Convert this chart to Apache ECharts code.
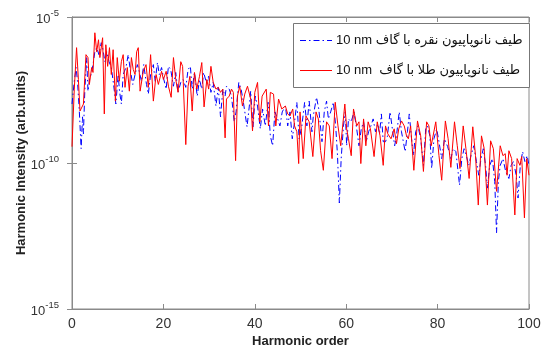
<!DOCTYPE html>
<html><head><meta charset="utf-8">
<script src="https://cdn.jsdelivr.net/npm/echarts@6/dist/echarts.min.js"></script>
</head>
<body style="margin:0;background:#fff">
<div id="c" style="width:547px;height:353px"></div>
<script>
// Tick values
const xTicks = [0, 20, 40, 60, 80, 100];
const yTickExponents = [-15, -10, -5];

// Legend names
const silverName = '10 nm طیف نانوپاپیون نقره با گاف';
const goldName = '10 nm  طیف نانوپاپیون طلا با گاف';

// Silver (blue, dash-dot): harmonic order and log10(intensity)
const silverX = [
  0,0.5,0.9,1.2,1.6,2.0,2.3,2.5,2.8,3.2,
  3.5,3.9,4.2,4.6,5.0,5.4,5.9,6.4,6.7,7.2,
  7.6,8.1,8.6,9.1,9.6,10.1,10.4,10.8,11.2,11.8,
  12.3,12.8,13.3,13.8,14.3,14.7,15.2,15.7,16.3,16.7,
  17.2,17.8,18.2,18.7,19.1,19.6,20.1,20.6,21.1,21.6,
  22.2,22.7,23.2,23.8,24.3,24.9,25.4,25.9,26.3,26.8,
  27.4,27.9,28.4,28.8,29.4,29.9,30.4,30.9,31.5,32.0,
  32.5,33.0,33.5,33.8,34.4,34.9,35.5,35.9,36.5,37.0,
  37.4,38.3,38.8,39.1,39.6,40.1,40.6,41.2,41.7,42.3,
  42.9,43.4,43.9,44.4,45.0,45.5,46.0,46.7,47.2,47.7,
  48.2,48.7,49.2,49.7,50.3,50.9,51.4,51.9,52.5,52.8,
  53.5,54.0,54.7,55.2,55.7,56.1,56.6,57.2,57.7,58.1,
  58.5,58.9,59.4,59.8,60.1,60.5,61.1,61.7,62.3,62.8,
  63.3,63.8,64.4,64.9,65.4,65.9,66.4,66.9,67.3,67.7,
  68.1,68.6,69.0,69.6,70.1,70.6,71.0,71.6,72.1,72.9,
  73.4,73.8,74.3,74.7,75.2,75.7,76.3,76.9,77.4,77.8,
  78.3,78.7,79.2,79.8,80.3,80.9,81.5,82.2,82.9,83.4,
  84.0,84.8,85.3,85.8,86.3,86.8,87.3,87.9,88.5,89.0,
  89.5,90.0,90.5,90.9,91.4,92.0,92.5,92.9,93.3,93.7,
  94.3,94.9,95.6,96.1,96.6,97.2,97.6,98.1,98.6,99.1,
  99.6,100
];
const silverLog = [
  -7.98,-7.20,-6.73,-7.20,-8.22,-9.51,-8.42,-9.00,-7.54,-6.39,
  -7.54,-7.07,-6.97,-6.63,-6.19,-6.05,-6.29,-5.88,-6.05,-6.53,
  -6.19,-6.53,-6.73,-7.31,-7.98,-6.97,-7.54,-7.98,-6.97,-6.73,
  -6.29,-6.86,-7.31,-6.97,-6.63,-6.86,-7.20,-6.63,-7.31,-7.64,
  -6.97,-6.63,-7.20,-6.56,-6.97,-6.73,-7.14,-7.47,-6.69,-6.80,
  -7.37,-6.90,-7.58,-7.24,-7.14,-7.41,-6.80,-6.69,-7.47,-6.90,
  -7.71,-7.14,-7.47,-6.90,-7.24,-7.03,-7.58,-7.24,-8.05,-7.41,
  -8.42,-7.47,-7.71,-7.37,-7.47,-7.71,-8.59,-8.25,-7.24,-7.47,
  -7.81,-8.76,-8.05,-7.54,-8.76,-7.71,-8.05,-8.83,-8.15,-8.73,
  -7.92,-9.07,-9.41,-8.25,-8.49,-8.73,-8.25,-8.05,-8.73,-8.25,
  -9.17,-8.59,-7.92,-9.17,-8.73,-7.92,-8.73,-7.88,-8.93,-8.39,
  -7.75,-8.15,-9.27,-8.25,-7.88,-8.49,-8.25,-7.92,-8.73,-9.75,
  -11.37,-9.85,-8.73,-8.25,-9.41,-8.49,-8.59,-8.25,-8.83,-9.41,
  -8.83,-8.59,-9.27,-8.93,-8.73,-8.49,-8.93,-8.66,-9.00,-8.32,
  -9.27,-9.27,-9.10,-8.25,-8.83,-9.41,-9.07,-8.25,-8.93,-9.61,
  -8.93,-8.32,-9.17,-9.75,-8.93,-8.73,-9.17,-10.08,-8.83,-8.73,
  -9.07,-10.19,-9.17,-8.83,-9.27,-9.85,-9.17,-9.44,-9.85,-9.51,
  -9.61,-10.76,-9.85,-9.51,-9.75,-10.08,-9.75,-9.41,-9.95,-10.42,
  -9.85,-9.51,-10.08,-10.86,-10.08,-9.85,-10.63,-12.39,-10.63,-10.08,
  -9.85,-10.29,-10.53,-10.08,-9.95,-10.42,-11.20,-10.08,-9.61,-9.95,
  -9.75,-10.08
];

// Gold (red, solid): harmonic order and log10(intensity)
const goldX = [
  0,0.5,1.0,1.4,1.75,2.5,3.06,3.5,3.8,4.3,
  4.6,5.0,5.4,5.8,6.1,6.7,7.07,7.4,7.8,8.2,
  8.6,9.0,9.5,9.9,10.35,10.8,11.2,11.6,12.1,12.55,
  13.0,13.4,13.8,14.15,14.5,14.9,15.6,16.2,16.7,17.2,
  17.8,18.4,18.9,19.6,20.0,20.6,21.1,21.7,22.2,22.7,
  23.2,23.8,24.2,24.9,25.4,25.8,26.3,26.8,27.3,27.9,
  28.4,28.9,29.5,29.9,30.4,30.9,31.5,32.0,32.5,33.0,
  33.5,33.8,34.4,34.9,35.3,35.8,36.2,36.7,37.3,37.8,
  38.4,38.8,39.1,39.5,40.0,40.6,41.1,41.6,42.5,43.0,
  43.4,44.1,44.6,45.2,45.9,46.7,47.2,47.7,48.3,48.7,
  49.2,49.6,49.9,50.6,51.2,51.9,52.7,53.4,53.9,54.4,
  55.0,55.7,56.3,56.9,57.6,58.2,58.8,59.7,60.1,60.5,
  61.1,61.6,62.3,62.8,63.2,63.8,64.3,64.8,65.3,66.1,
  66.8,67.4,68.1,68.6,69.1,69.8,70.5,71.0,71.5,72.1,
  72.7,73.2,73.6,74.1,74.8,75.6,76.3,76.9,77.6,78.1,
  78.6,79.6,80.3,80.9,81.7,82.3,82.9,83.7,84.3,84.9,
  85.6,86.2,86.9,87.7,88.3,88.9,89.6,90.2,90.9,91.6,
  92.2,92.9,93.7,94.3,94.8,95.2,95.6,96.2,96.9,97.4,
  98.0,98.4,99.0,99.5,100
];
const goldLog = [
  -9.44,-7.47,-6.05,-7.14,-8.22,-7.98,-6.29,-6.39,-7.31,-6.73,
  -6.90,-5.54,-6.19,-5.78,-6.39,-5.71,-8.32,-5.95,-6.69,-6.05,
  -6.97,-6.12,-7.88,-6.39,-7.20,-6.53,-6.29,-7.41,-6.73,-7.54,
  -6.39,-6.80,-6.97,-6.19,-6.05,-7.54,-6.86,-6.63,-7.41,-6.29,
  -7.88,-6.97,-7.31,-6.86,-7.14,-6.86,-7.37,-7.75,-6.39,-7.14,
  -7.58,-6.53,-6.69,-9.37,-7.37,-7.03,-8.22,-6.90,-7.47,-7.03,
  -6.56,-8.08,-7.14,-7.47,-6.69,-7.24,-7.47,-7.41,-7.58,-7.47,
  -9.14,-7.81,-7.71,-7.47,-7.58,-9.92,-7.71,-7.37,-8.05,-7.64,
  -7.37,-7.31,-7.81,-8.90,-7.58,-7.24,-8.59,-7.71,-7.47,-8.73,
  -7.58,-7.64,-8.73,-7.81,-8.15,-8.05,-8.32,-8.39,-8.15,-8.73,
  -8.93,-10.02,-8.25,-9.85,-8.39,-8.59,-9.78,-8.25,-8.49,-9.58,
  -10.25,-8.59,-8.73,-9.85,-7.92,-8.73,-9.41,-7.98,-8.83,-9.17,
  -9.75,-8.15,-8.73,-8.59,-10.02,-8.49,-9.41,-8.59,-8.83,-9.78,
  -8.59,-9.07,-10.08,-8.73,-9.00,-9.17,-8.83,-9.34,-8.83,-8.56,
  -8.73,-9.07,-9.17,-8.73,-10.25,-8.56,-9.07,-10.29,-8.59,-8.73,
  -9.41,-8.59,-9.75,-10.59,-8.56,-9.17,-10.15,-8.59,-9.41,-10.19,
  -8.73,-9.51,-10.53,-8.76,-9.75,-11.44,-9.07,-9.51,-11.44,-9.24,
  -9.51,-10.97,-9.41,-9.75,-9.68,-10.42,-9.58,-9.85,-11.78,-9.85,
  -10.08,-9.78,-11.88,-9.85,-10.42
];

function pairs(xs, logs) {
  return xs.map((x, i) => [x, Math.pow(10, logs[i])]);
}

const font = '"Liberation Sans", "DejaVu Sans", Arial, sans-serif';
const axisColor = '#8a8a8a';
const labelColor = '#333333';
const silverColor = '#0000ff';
const goldColor = '#ff0000';
const silverDash = [6, 3, 1.5, 3];

const chart = echarts.init(document.getElementById('c'), null, {renderer: 'canvas'});

const yLabel = {
  color: labelColor,
  fontFamily: font,
  margin: 13,
  formatter: function (v) {
    const e = Math.round(Math.log10(v));
    return '{b|10}{s|' + e + '}';
  },
  rich: {
    b: {fontSize: 13, fontFamily: font, color: labelColor, padding: [5, 0, 0, 0]},
    s: {fontSize: 9.5, fontFamily: font, color: labelColor, padding: [0, 0, 7, 0]}
  }
};

chart.setOption({
  animation: false,
  backgroundColor: '#ffffff',
  grid: {left: 72, right: 18, top: 17, bottom: 41, show: true, borderColor: axisColor, borderWidth: 1, containLabel: false},
  xAxis: [{
    type: 'value', min: xTicks[0], max: xTicks[xTicks.length - 1], interval: 20,
    name: 'Harmonic order', nameLocation: 'middle', nameGap: 26, nameMoveOverlap: false,
    nameTextStyle: {fontFamily: font, fontSize: 13, fontWeight: 'bold', color: '#222'},
    axisLine: {show: true, lineStyle: {color: axisColor}},
    axisTick: {show: true, inside: true, length: 5, lineStyle: {color: axisColor}},
    axisLabel: {color: labelColor, fontFamily: font, fontSize: 14, margin: 8},
    splitLine: {show: false}
  }, {
    type: 'value', position: 'top', min: xTicks[0], max: xTicks[xTicks.length - 1], interval: 20,
    axisLine: {show: true, lineStyle: {color: axisColor}},
    axisTick: {show: true, inside: true, length: 5, lineStyle: {color: axisColor}},
    axisLabel: {show: false}, splitLine: {show: false}
  }],
  yAxis: [{
    type: 'log', logBase: 10, min: Math.pow(10, yTickExponents[0]), max: Math.pow(10, yTickExponents[2]), interval: 5,
    name: 'Harmonic Intensity (arb.units)', nameLocation: 'middle', nameGap: 44, nameMoveOverlap: false,
    nameTextStyle: {fontFamily: font, fontSize: 13, fontWeight: 'bold', color: '#222'},
    axisLine: {show: true, lineStyle: {color: axisColor}},
    axisTick: {show: true, inside: true, length: 5, lineStyle: {color: axisColor}},
    minorTick: {show: false},
    axisLabel: yLabel,
    splitLine: {show: false}
  }, {
    type: 'log', logBase: 10, position: 'right', min: Math.pow(10, yTickExponents[0]), max: Math.pow(10, yTickExponents[2]), interval: 5,
    axisLine: {show: true, lineStyle: {color: axisColor}},
    axisTick: {show: true, inside: true, length: 5, lineStyle: {color: axisColor}},
    axisLabel: {show: false}, splitLine: {show: false}
  }],
  graphic: [{
    type: 'rect', z: 15,
    shape: {x: 293.5, y: 23.5, width: 236, height: 64},
    style: {fill: '#ffffff', stroke: '#777777', lineWidth: 1}
  }, {
    type: 'line', z: 16,
    shape: {x1: 300, y1: 40.5, x2: 332, y2: 40.5},
    style: {stroke: silverColor, lineWidth: 1, lineDash: silverDash}
  }, {
    type: 'text', z: 16, x: 336, y: 40,
    style: {text: silverName, font: '13px ' + font, fill: '#111', textVerticalAlign: 'middle', verticalAlign: 'middle'}
  }, {
    type: 'line', z: 16,
    shape: {x1: 300, y1: 70.5, x2: 332, y2: 70.5},
    style: {stroke: goldColor, lineWidth: 1}
  }, {
    type: 'text', z: 16, x: 336, y: 70,
    style: {text: goldName, font: '13px ' + font, fill: '#111', textVerticalAlign: 'middle', verticalAlign: 'middle'}
  }],
  series: [{
    name: silverName, type: 'line', data: pairs(silverX, silverLog),
    showSymbol: false, symbol: 'none', z: 2,
    lineStyle: {color: silverColor, width: 1, type: silverDash}
  }, {
    name: goldName, type: 'line', data: pairs(goldX, goldLog),
    showSymbol: false, symbol: 'none', z: 3,
    lineStyle: {color: goldColor, width: 1}
  }]
});
</script>
</body></html>
